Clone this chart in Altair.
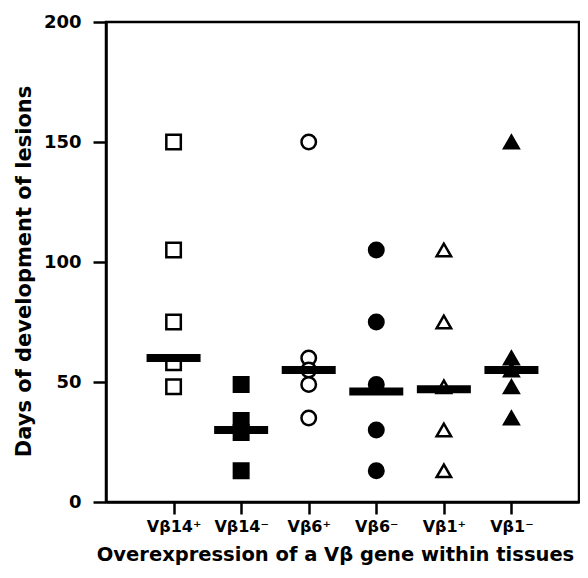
import altair as alt
import pandas as pd

groups = ["Vβ14⁺", "Vβ14⁻", "Vβ6⁺", "Vβ6⁻", "Vβ1⁺", "Vβ1⁻"]
vb14_pos = [150, 105, 75, 58, 48]
vb14_neg = [49, 34, 29, 13]
vb6_pos = [150, 60, 55, 49, 35]
vb6_neg = [105, 75, 49, 30, 13]
vb1_pos = [105, 75, 48, 30, 13]
vb1_neg = [150, 60, 55, 48, 35]
medians = [60, 30, 55, 46, 47, 55]

shapes = ["square", "square", "circle", "circle", "triangle-up", "triangle-up"]
fills = ["white", "black", "white", "black", "white", "black"]

series = [vb14_pos, vb14_neg, vb6_pos, vb6_neg, vb1_pos, vb1_neg]
rows = []
for g, vals in zip(groups, series):
    for v in vals:
        rows.append({"group": g, "days": v})
pts = pd.DataFrame(rows)
med = pd.DataFrame({"group": groups, "days": medians})

FONT = "DejaVu Sans"

xenc = alt.X(
    "group:N",
    scale=alt.Scale(type="point", padding=1, domain=groups),
    sort=groups,
    axis=alt.Axis(
        title="Overexpression of a Vβ gene within tissues",
        labelAngle=0,
        labelFontSize=16,
        labelFontWeight="bold",
        labelFont=FONT,
        labelColor="black",
        labelPadding=4,
        titleFontSize=19.5,
        titleFontWeight="bold",
        titleFont=FONT,
        titleColor="black",
        titlePadding=11,
        titleX=229,
        tickSize=12,
        tickWidth=2.5,
        tickColor="black",
        domainWidth=2.5,
        domainColor="black",
    ),
)
yenc = alt.Y(
    "days:Q",
    scale=alt.Scale(domain=[0, 200], nice=False),
    axis=alt.Axis(
        title="Days of development of lesions",
        values=[0, 50, 100, 150, 200],
        grid=False,
        labelFontSize=18,
        labelFontWeight="bold",
        labelFont=FONT,
        labelColor="black",
        labelPadding=12,
        titleFontSize=21,
        titleFontWeight="bold",
        titleFont=FONT,
        titleColor="black",
        titlePadding=9,
        titleY=249,
        tickSize=13,
        tickWidth=2.5,
        tickColor="black",
        domainWidth=2.5,
        domainColor="black",
    ),
)

points = alt.Chart(pts).mark_point(size=210, strokeWidth=2.5, opacity=1, filled=False).encode(
    x=xenc,
    y=yenc,
    shape=alt.Shape("group:N", scale=alt.Scale(domain=groups, range=shapes), legend=None),
    fill=alt.Fill("group:N", scale=alt.Scale(domain=groups, range=fills), legend=None),
    stroke=alt.value("black"),
)

bars = alt.Chart(med).mark_tick(size=54, thickness=8, color="black", opacity=1).encode(
    x=xenc,
    y=yenc,
)

chart = (
    alt.layer(points, bars)
    .properties(
        width=473,
        height=480,
        autosize=alt.AutoSizeParams(type="none"),
        padding={"left": 98, "top": 14, "right": 1, "bottom": 64},
        background="white",
    )
    .configure_view(stroke="black", strokeWidth=2.5)
)

chart.save("out.html", embed_options={"renderer": "svg", "actions": False})
